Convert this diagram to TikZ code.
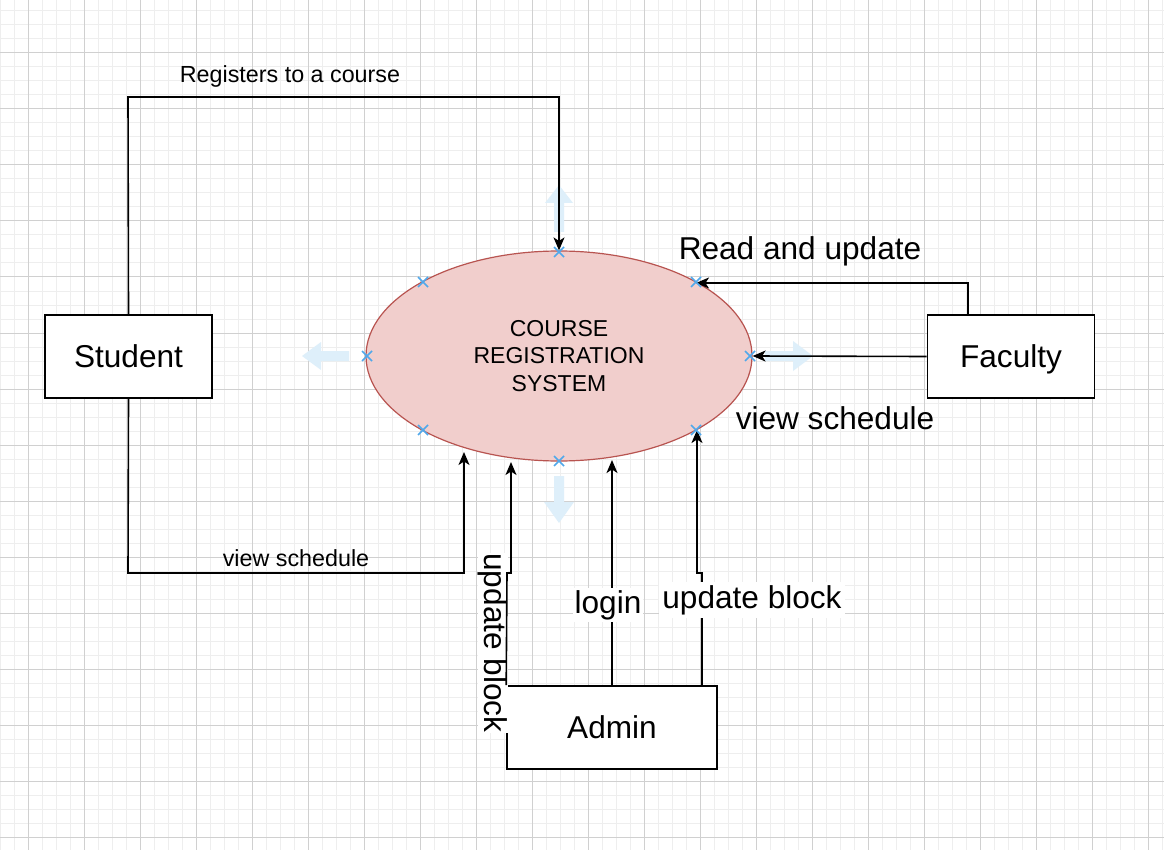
\documentclass[tikz,border=0pt]{standalone}
\usepackage{fontspec}
\setmainfont{Liberation Sans}
\usetikzlibrary{arrows.meta,shapes.geometric}
\definecolor{gridminor}{RGB}{238,238,238}
\definecolor{gridmajor}{RGB}{208,208,208}
\definecolor{ellfill}{RGB}{241,206,204}
\definecolor{elldraw}{RGB}{184,84,80}
\definecolor{markblue}{RGB}{80,168,235}
\definecolor{hoverblue}{RGB}{222,239,250}
\tikzset{
  lblsmall/.style={font=\fontsize{23.3}{28}\selectfont, inner sep=1pt},
  lblbig/.style={font=\fontsize{31.6}{38}\selectfont, inner sep=1pt},
  entity/.style={draw=black, fill=white, line width=1.6pt, minimum width=167pt, minimum height=83pt, inner sep=0pt, text height=22.6pt, text depth=0pt, font=\fontsize{31.6}{38}\selectfont},
  conn/.style={draw=black, line width=1.6pt, -{Stealth[length=13pt,width=11pt,inset=3.5pt]}},
  hover/.style={fill=hoverblue, draw=none},
  cpmark/.style={draw=markblue, line width=1.5pt}
}
\begin{document}
\begin{tikzpicture}[x=1pt,y=-1pt]
\useasboundingbox (0,0) rectangle (1164,850);
\fill[white] (0,0) rectangle (1164,850);
% grid
\foreach \x in {0,14,...,1164} \draw[gridminor, line width=1pt] (\x,0) -- (\x,850);
\foreach \y in {-3,11,...,850} \draw[gridminor, line width=1pt] (0,\y) -- (1164,\y);
\foreach \x in {28,84,...,1164} \draw[gridmajor, line width=1pt] (\x,0) -- (\x,850);
\foreach \y in {-3,53,...,850} \draw[gridmajor, line width=1pt] (0,\y) -- (1164,\y);
% hover arrows
\fill[hover] (554,232) -- (554,203) -- (545,203) -- (559,185) -- (573,203) -- (564,203) -- (564,232) -- cycle;
\fill[hover] (349,351) -- (321,351) -- (321,342) -- (302,356) -- (321,370) -- (321,361) -- (349,361) -- cycle;
\fill[hover] (765,351) -- (793,351) -- (793,341) -- (813,356) -- (793,371) -- (793,361) -- (765,361) -- cycle;
\fill[hover] (554,476) -- (554,502) -- (544,502) -- (559,523) -- (574,502) -- (564,502) -- (564,476) -- cycle;
% system
\node[ellipse, draw=elldraw, fill=ellfill, line width=1.2pt, minimum width=386pt, minimum height=210pt, inner sep=0pt, align=center, font=\fontsize{23}{27.6}\selectfont] (sys) at (559,356) {COURSE\\REGISTRATION\\SYSTEM};
% entities
\node[entity] (student) at (128.5,356.5) {Student};
\node[entity] (faculty) at (1011,356.5) {Faculty};
\node[entity, minimum width=210pt] (admin) at (612,727.5) {Admin};
% rotated label (behind its connector)
\node[lblbig, fill=white, inner sep=0pt, rotate=-90] (l7) at (493,643) {update block};
% end points on the ellipse
\coordinate (eVS) at (464,452);
\coordinate (eUB1) at (511,462);
\coordinate (eLog) at (612,460);
\coordinate (eUB2) at (697,430);
\coordinate (eRU) at (696,283);
% connectors
\draw[conn] (student.north) -- (128,97) -- (559,97) -- (sys.north);
\draw[conn] (student.south) -- (128,573) -- (464,573) -- (eVS);
\draw[conn] (admin.north west) -- (507,573) -- (511,573) -- (eUB1);
\draw[conn] (admin.north) -- (eLog);
\draw[conn] (702,686) -- (702,573) -- (697,573) -- (eUB2);
\draw[conn] (968,315) -- (968,283) -- (eRU);
\draw[conn] (faculty.west) -- (sys.east);
% labels
\node[lblsmall] (l1) at (290,76) {Registers to a course};
\node[lblsmall] (l2) at (296,558) {view schedule};
\node[lblbig] (l3) at (800,251) {Read and update};
\node[lblbig] (l4) at (835,418) {view schedule};
\node[lblbig, fill=white, inner sep=2pt] (l5) at (608,605) {login};
\node[lblbig, fill=white, inner sep=3pt] (l6) at (752,600) {update block};
% connection point markers
\foreach \px/\py in {559/252, 423/282, 696/282, 367/356, 750/356, 423/430, 696/430, 559/461}
  \draw[cpmark] (\px-5,\py-5) -- (\px+5,\py+5) (\px-5,\py+5) -- (\px+5,\py-5);
\end{tikzpicture}
\end{document}
